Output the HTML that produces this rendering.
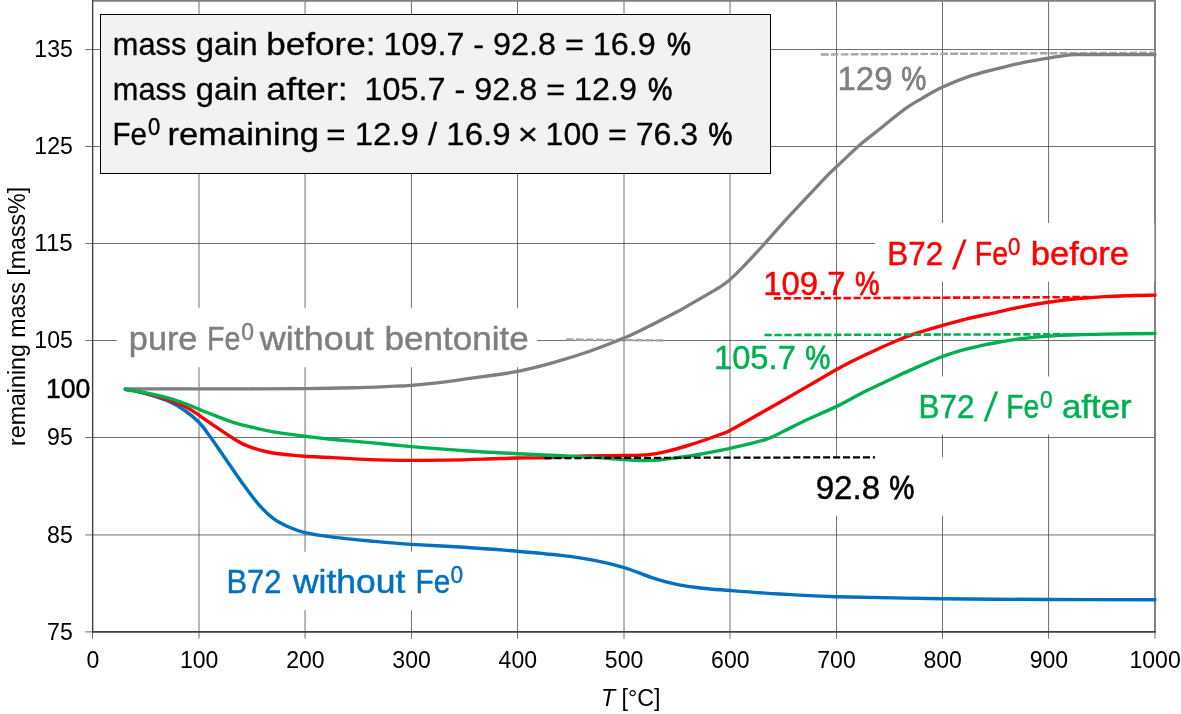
<!DOCTYPE html>
<html lang="en"><head><meta charset="utf-8"><title>TGA remaining mass</title>
<style>html,body{margin:0;padding:0;background:#fff}body{width:1181px;height:714px;overflow:hidden}svg{display:block}
text{font-family:"Liberation Sans",Arial,Helvetica,sans-serif}
.ax{font-size:24px;fill:#000}.at{font-size:23.3px;fill:#000}.hd{font-size:28px}.bx{font-size:31.3px}.lb{font-size:32.8px}.sp{font-size:24.3px}.sl{font-size:40.7px}
</style></head><body>
<svg width="1181" height="714" viewBox="0 0 1181 714">
<rect width="1181" height="714" fill="#fff"/>
<g stroke="#404040" stroke-width="0.75" fill="none">
<line x1="199.00" y1="1" x2="199.00" y2="631.6"/>
<line x1="305.05" y1="1" x2="305.05" y2="631.6"/>
<line x1="411.45" y1="1" x2="411.45" y2="631.6"/>
<line x1="517.55" y1="1" x2="517.55" y2="631.6"/>
<line x1="624.00" y1="1" x2="624.00" y2="631.6"/>
<line x1="730.00" y1="1" x2="730.00" y2="631.6"/>
<line x1="836.50" y1="1" x2="836.50" y2="631.6"/>
<line x1="942.50" y1="1" x2="942.50" y2="631.6"/>
<line x1="1048.55" y1="1" x2="1048.55" y2="631.6"/>
<line x1="92.8" y1="534.95" x2="1155" y2="534.95"/>
<line x1="92.8" y1="437.50" x2="1155" y2="437.50"/>
<line x1="92.8" y1="340.50" x2="1155" y2="340.50"/>
<line x1="92.8" y1="243.50" x2="1155" y2="243.50"/>
<line x1="92.8" y1="146.50" x2="1155" y2="146.50"/>
<line x1="92.8" y1="49.50" x2="1155" y2="49.50"/>
</g>
<g stroke="#404040" stroke-width="0.75" fill="none">
<line x1="92.50" y1="631.6" x2="92.50" y2="638.7"/>
<line x1="199.00" y1="631.6" x2="199.00" y2="638.7"/>
<line x1="305.05" y1="631.6" x2="305.05" y2="638.7"/>
<line x1="411.45" y1="631.6" x2="411.45" y2="638.7"/>
<line x1="517.55" y1="631.6" x2="517.55" y2="638.7"/>
<line x1="624.00" y1="631.6" x2="624.00" y2="638.7"/>
<line x1="730.00" y1="631.6" x2="730.00" y2="638.7"/>
<line x1="836.50" y1="631.6" x2="836.50" y2="638.7"/>
<line x1="942.50" y1="631.6" x2="942.50" y2="638.7"/>
<line x1="1048.55" y1="631.6" x2="1048.55" y2="638.7"/>
<line x1="1155.00" y1="631.6" x2="1155.00" y2="638.7"/>
<line x1="85.2" y1="631.90" x2="92.8" y2="631.90"/>
<line x1="85.2" y1="534.95" x2="92.8" y2="534.95"/>
<line x1="85.2" y1="437.50" x2="92.8" y2="437.50"/>
<line x1="85.2" y1="340.50" x2="92.8" y2="340.50"/>
<line x1="85.2" y1="243.50" x2="92.8" y2="243.50"/>
<line x1="85.2" y1="146.50" x2="92.8" y2="146.50"/>
<line x1="85.2" y1="49.50" x2="92.8" y2="49.50"/>
</g>
<g fill="#fff">
<rect x="116.8" y="307.8" width="420" height="59.4"/>
<rect x="875" y="223" width="280" height="58.6"/>
<rect x="905" y="376.5" width="249" height="58"/>
<rect x="210" y="551.8" width="270" height="58.4"/>
<rect x="801" y="457.2" width="160" height="58.5"/>
</g>
<line x1="92.2" y1="0.9" x2="1156" y2="0.9" stroke="#808080" stroke-width="1.8"/>
<line x1="1155" y1="0" x2="1155" y2="632.2" stroke="#808080" stroke-width="2"/>
<rect x="1153.8" y="223" width="0.55" height="58.6" fill="#fff"/>
<line x1="566" y1="339.4" x2="663.2" y2="340.5" stroke="#a6a6a6" stroke-width="2.4" stroke-dasharray="7.7 2.25"/>
<line x1="820.9" y1="54.5" x2="1155" y2="52.7" stroke="#a6a6a6" stroke-width="2.4" stroke-dasharray="7.7 2.25"/>
<g fill="none" stroke-width="3.4" stroke-linecap="round" stroke-linejoin="round">
<path stroke="#7f7f7f" stroke-width="3.3" d="M125.4,388.9 C137.7,388.9 169.0,388.9 198.9,388.9 C228.8,388.8 278.1,388.8 305.0,388.6 C331.9,388.4 344.2,388.0 360.0,387.6 C375.8,387.2 391.4,386.4 400.0,386.0 C408.6,385.6 403.5,386.1 411.4,385.4 C419.3,384.7 435.5,383.1 447.4,381.6 C459.3,380.1 471.3,378.3 483.0,376.6 C494.7,374.9 505.9,373.7 517.8,371.3 C529.6,368.9 542.1,365.7 554.1,362.3 C566.1,358.9 578.1,355.2 589.7,351.2 C601.4,347.2 614.1,342.2 624.0,338.1 C633.9,334.0 639.6,331.0 648.9,326.3 C658.2,321.6 673.5,313.6 680.0,310.2 C686.5,306.8 681.3,309.5 688.0,305.6 C694.7,301.7 713.2,291.2 720.2,286.8 C727.2,282.4 726.0,282.9 730.0,279.4 C734.0,275.9 738.4,271.6 744.0,265.8 C749.6,260.0 756.6,252.5 763.6,244.8 C770.6,237.1 779.0,227.3 786.0,219.6 C793.0,211.9 798.6,206.1 805.6,198.6 C812.6,191.1 822.9,180.1 828.0,174.8 C833.1,169.5 831.1,171.9 836.5,166.8 C841.9,161.8 852.9,150.9 860.3,144.5 C867.7,138.1 873.2,134.2 880.7,128.3 C888.2,122.4 898.2,113.8 905.0,108.9 C911.8,104.0 915.0,102.5 921.3,98.8 C927.6,95.1 934.1,90.9 942.6,87.0 C951.1,83.1 962.1,78.7 972.1,75.4 C982.1,72.1 994.1,69.4 1002.6,67.3 C1011.1,65.2 1015.3,64.1 1022.9,62.6 C1030.5,61.1 1040.5,59.4 1048.3,58.1 C1056.1,56.8 1064.1,55.5 1069.7,54.9 C1075.3,54.3 1077.0,54.6 1082.0,54.6 C1087.0,54.6 1087.8,54.6 1100.0,54.6 C1112.2,54.6 1145.8,54.6 1155.0,54.6"/>
<path stroke="#0070c0" d="M125.4,389.3 C128.5,389.9 136.8,391.1 143.8,393.0 C150.8,394.9 160.7,397.8 167.6,400.8 C174.5,403.8 180.3,407.4 185.5,411.0 C190.7,414.6 194.9,418.2 198.9,422.3 C202.9,426.4 205.6,430.5 209.3,435.5 C213.0,440.5 217.8,447.7 221.2,452.5 C224.5,457.3 225.6,459.0 229.4,464.5 C233.2,470.0 239.2,478.9 244.1,485.6 C249.0,492.3 253.9,499.2 258.8,504.7 C263.7,510.2 268.6,515.0 273.5,518.7 C278.4,522.4 283.0,524.5 288.2,526.8 C293.4,529.1 297.5,530.9 304.9,532.6 C312.2,534.3 321.5,535.7 332.4,537.1 C343.3,538.5 356.8,539.8 370.0,541.0 C383.2,542.2 395.7,543.4 411.4,544.4 C427.1,545.4 446.7,546.2 464.4,547.3 C482.1,548.4 501.3,549.9 517.4,551.2 C533.5,552.6 548.3,553.9 560.9,555.4 C573.5,556.9 582.5,558.2 593.1,560.2 C603.7,562.2 614.6,564.8 624.3,567.6 C633.9,570.5 642.3,574.5 651.0,577.3 C659.7,580.1 668.1,582.6 676.7,584.4 C685.3,586.2 693.5,587.2 702.4,588.2 C711.3,589.2 717.2,589.5 730.1,590.5 C743.0,591.5 762.2,593.0 780.0,594.0 C797.8,595.0 809.5,595.9 836.6,596.7 C863.7,597.5 907.1,598.2 942.5,598.7 C977.9,599.2 1013.4,599.3 1048.8,599.5 C1084.2,599.6 1137.3,599.7 1155.0,599.8"/>
<path stroke="#ff0000" d="M125.4,389.3 C128.5,389.9 136.8,391.2 143.8,392.9 C150.8,394.6 160.7,397.3 167.6,399.6 C174.5,401.9 180.3,404.2 185.5,406.8 C190.7,409.4 194.0,411.8 198.9,415.1 C203.8,418.4 209.5,422.5 215.2,426.4 C220.9,430.3 228.1,435.2 233.1,438.3 C238.1,441.4 240.5,442.9 245.0,444.9 C249.5,446.9 255.3,448.8 260.0,450.2 C264.7,451.6 268.3,452.2 273.0,453.0 C277.7,453.8 282.9,454.2 288.2,454.7 C293.5,455.2 297.5,455.7 304.9,456.2 C312.2,456.7 321.5,457.0 332.4,457.6 C343.3,458.2 356.8,459.1 370.0,459.6 C383.2,460.1 398.8,460.3 411.4,460.4 C424.0,460.5 433.9,460.3 445.9,460.1 C457.8,459.9 471.2,459.5 483.1,459.1 C495.1,458.8 507.3,458.2 517.6,458.0 C527.9,457.8 533.7,458.1 544.7,457.7 C555.7,457.3 570.5,456.3 583.8,455.9 C597.1,455.5 613.4,455.7 624.3,455.5 C635.2,455.3 641.8,455.3 649.0,454.6 C656.2,453.9 661.5,452.6 667.7,451.2 C673.9,449.8 680.1,447.9 686.3,446.0 C692.5,444.1 699.3,441.9 704.9,440.0 C710.5,438.1 715.8,436.1 720.0,434.5 C724.2,432.9 722.6,434.3 730.0,430.4 C737.4,426.5 752.5,417.8 764.5,411.0 C776.5,404.2 789.8,396.5 801.8,389.6 C813.8,382.7 828.2,374.2 836.5,369.5 C844.8,364.8 845.5,364.6 851.6,361.5 C857.7,358.4 866.0,354.5 873.2,351.2 C880.4,347.9 887.6,344.5 894.8,341.5 C902.0,338.5 908.4,335.9 916.4,333.2 C924.4,330.5 934.2,327.7 942.6,325.3 C951.0,322.9 958.8,320.7 966.7,318.8 C974.6,316.9 981.3,315.7 990.0,313.8 C998.7,311.9 1009.1,309.2 1018.8,307.3 C1028.5,305.4 1038.7,303.7 1048.3,302.3 C1057.9,300.9 1066.9,299.6 1076.4,298.7 C1085.9,297.8 1095.6,297.1 1105.2,296.6 C1114.8,296.1 1125.7,295.8 1134.0,295.5 C1142.3,295.2 1151.5,295.2 1155.0,295.1"/>
<path stroke="#00b050" d="M125.4,389.3 C128.5,389.8 136.8,391.1 143.8,392.5 C150.8,393.9 160.7,396.0 167.6,397.9 C174.5,399.8 180.3,401.9 185.5,403.8 C190.7,405.7 194.0,407.2 198.9,409.2 C203.8,411.2 209.5,413.5 215.2,415.7 C220.9,417.9 227.1,420.4 233.1,422.3 C239.1,424.2 245.8,425.7 251.0,427.0 C256.2,428.3 259.1,429.1 264.5,430.2 C269.9,431.3 276.3,432.4 283.1,433.4 C289.9,434.4 297.6,435.3 305.1,436.2 C312.6,437.1 317.1,437.9 327.9,439.0 C338.7,440.1 356.1,441.3 370.0,442.6 C383.9,443.9 395.6,445.2 411.4,446.6 C427.1,448.0 446.8,449.5 464.5,450.7 C482.2,451.9 502.5,452.9 517.7,453.7 C532.9,454.5 543.3,454.9 555.9,455.5 C568.5,456.1 581.7,456.7 593.1,457.4 C604.5,458.1 616.5,459.1 624.3,459.6 C632.1,460.1 634.0,460.4 639.7,460.5 C645.4,460.6 652.1,460.5 658.3,460.0 C664.5,459.5 670.8,458.5 677.0,457.7 C683.2,456.9 686.8,456.6 695.6,455.0 C704.4,453.4 718.5,450.8 730.0,448.3 C741.5,445.8 755.6,442.7 764.5,439.9 C773.4,437.1 776.9,434.4 783.1,431.5 C789.3,428.6 792.9,426.4 801.8,422.2 C810.7,418.0 827.3,410.9 836.6,406.4 C845.9,401.9 852.5,397.9 857.7,395.2 C863.0,392.5 863.1,392.4 868.1,390.0 C873.1,387.6 880.8,383.9 887.6,380.7 C894.5,377.5 902.0,373.8 909.2,370.6 C916.4,367.4 925.2,363.7 930.8,361.3 C936.4,358.9 937.8,358.2 942.6,356.5 C947.4,354.8 953.2,352.7 959.6,350.9 C966.0,349.1 974.4,347.1 981.1,345.6 C987.8,344.1 993.7,343.1 1000.0,342.0 C1006.3,340.9 1010.8,340.0 1018.8,339.0 C1026.8,338.0 1038.7,336.8 1048.3,336.1 C1057.9,335.4 1066.9,335.0 1076.4,334.7 C1085.9,334.4 1092.1,334.3 1105.2,334.1 C1118.3,333.9 1146.7,333.6 1155.0,333.5"/>
</g>
<line x1="773.9" y1="298.4" x2="1089" y2="297.1" stroke="#ff0000" stroke-width="2.6" stroke-dasharray="7.3 2.65"/>
<line x1="764.5" y1="335" x2="1094" y2="334.2" stroke="#00b050" stroke-width="2.6" stroke-dasharray="7.3 2.65"/>
<line x1="544.5" y1="458.1" x2="875" y2="457.3" stroke="#000" stroke-width="2.25" stroke-dasharray="7.1 2.85"/>
<line x1="92.65" y1="0" x2="92.65" y2="632.5" stroke="#404040" stroke-width="1.4"/>
<line x1="92.1" y1="631.9" x2="1156" y2="631.9" stroke="#404040" stroke-width="1.6"/>
<rect x="100.5" y="14.5" width="670" height="159" fill="#f2f2f2" stroke="#000" stroke-width="1"/>
<text id="a1" class="bx" x="112.78" y="55.4" textLength="73.57" lengthAdjust="spacingAndGlyphs" fill="#000" stroke="#000" stroke-width="0.3">mass</text>
<text id="a1b" class="bx" x="195.71" y="55.4" textLength="61.95" lengthAdjust="spacingAndGlyphs" fill="#000" stroke="#000" stroke-width="0.3">gain</text>
<text id="a1c" class="bx" x="266.19" y="55.4" textLength="109.28" lengthAdjust="spacingAndGlyphs" fill="#000" stroke="#000" stroke-width="0.3">before:</text>
<text id="a2" class="bx" x="383.48" y="55.4" textLength="272.26" lengthAdjust="spacingAndGlyphs" fill="#000" stroke="#000" stroke-width="0.3">109.7 - 92.8 = 16.9</text>
<text id="a3" class="bx" x="667.00" y="55.4" textLength="23.91" lengthAdjust="spacingAndGlyphs" fill="#000" stroke="#000" stroke-width="0.8">%</text>
<text id="b1" class="bx" x="112.78" y="99.9" textLength="73.57" lengthAdjust="spacingAndGlyphs" fill="#000" stroke="#000" stroke-width="0.3">mass</text>
<text id="b1b" class="bx" x="195.71" y="99.9" textLength="61.95" lengthAdjust="spacingAndGlyphs" fill="#000" stroke="#000" stroke-width="0.3">gain</text>
<text id="b1c" class="bx" x="266.38" y="99.9" textLength="81.34" lengthAdjust="spacingAndGlyphs" fill="#000" stroke="#000" stroke-width="0.3">after:</text>
<text id="b2" class="bx" x="364.45" y="99.9" textLength="272.58" lengthAdjust="spacingAndGlyphs" fill="#000" stroke="#000" stroke-width="0.3">105.7 - 92.8 = 12.9</text>
<text id="b3" class="bx" x="648.10" y="99.9" textLength="24.30" lengthAdjust="spacingAndGlyphs" fill="#000" stroke="#000" stroke-width="0.8">%</text>
<text id="c1" class="bx" x="112.55" y="144.7" textLength="34.53" lengthAdjust="spacingAndGlyphs" fill="#000" stroke="#000" stroke-width="0.3">Fe</text>
<text id="c2" class="sp" x="147.92" y="134.6" textLength="12.19" lengthAdjust="spacingAndGlyphs" fill="#000" stroke="#000" stroke-width="0.45">0</text>
<text id="c3" class="bx" x="167.63" y="144.7" textLength="151.43" lengthAdjust="spacingAndGlyphs" fill="#000" stroke="#000" stroke-width="0.3">remaining</text>
<text id="c4" class="bx" x="326.31" y="144.7" textLength="184.22" lengthAdjust="spacingAndGlyphs" fill="#000" stroke="#000" stroke-width="0.3">= 12.9 / 16.9</text>
<text id="c5" class="bx" x="517.70" y="144.7" textLength="20.32" lengthAdjust="spacingAndGlyphs" fill="#000" stroke="#000" stroke-width="0.3">×</text>
<text id="c6" class="bx" x="545.54" y="144.7" textLength="152.63" lengthAdjust="spacingAndGlyphs" fill="#000" stroke="#000" stroke-width="0.3">100 = 76.3</text>
<text id="c7" class="bx" x="708.44" y="144.7" textLength="23.83" lengthAdjust="spacingAndGlyphs" fill="#000" stroke="#000" stroke-width="0.8">%</text>
<text id="p1" class="lb" x="128.83" y="350.2" textLength="68.62" lengthAdjust="spacingAndGlyphs" fill="#7f7f7f" stroke="#7f7f7f" stroke-width="0.45">pure</text>
<text id="p2" class="lb" x="206.93" y="350.2" textLength="33.39" lengthAdjust="spacingAndGlyphs" fill="#7f7f7f" stroke="#7f7f7f" stroke-width="0.45">Fe</text>
<text id="p3" class="sp" x="241.32" y="339.8" textLength="12.72" lengthAdjust="spacingAndGlyphs" fill="#7f7f7f" stroke="#7f7f7f" stroke-width="0.45">0</text>
<text id="p4" class="lb" x="259.89" y="350.2" textLength="113.74" lengthAdjust="spacingAndGlyphs" fill="#7f7f7f" stroke="#7f7f7f" stroke-width="0.45">without</text>
<text id="p5" class="lb" x="384.40" y="350.2" textLength="144.37" lengthAdjust="spacingAndGlyphs" fill="#7f7f7f" stroke="#7f7f7f" stroke-width="0.45">bentonite</text>
<text id="q1" class="lb" x="837.52" y="90.3" textLength="54.97" lengthAdjust="spacingAndGlyphs" fill="#7f7f7f" stroke="#7f7f7f" stroke-width="0.45">129</text>
<text id="q2" class="lb" x="901.14" y="90.3" textLength="25.06" lengthAdjust="spacingAndGlyphs" fill="#7f7f7f" stroke="#7f7f7f" stroke-width="0.8">%</text>
<text id="r1" class="lb" x="763.24" y="294.5" textLength="82.25" lengthAdjust="spacingAndGlyphs" fill="#ff0000" stroke="#ff0000" stroke-width="0.45">109.7</text>
<text id="r1b" class="lb" x="855.05" y="294.5" textLength="24.51" lengthAdjust="spacingAndGlyphs" fill="#ff0000" stroke="#ff0000" stroke-width="0.8">%</text>
<text id="r2" class="lb" x="887.32" y="265.2" textLength="55.78" lengthAdjust="spacingAndGlyphs" fill="#ff0000" stroke="#ff0000" stroke-width="0.45">B72</text>
<text id="r2c" class="lb" x="974.78" y="265.2" textLength="33.36" lengthAdjust="spacingAndGlyphs" fill="#ff0000" stroke="#ff0000" stroke-width="0.45">Fe</text>
<text id="r3" class="sp" x="1007.89" y="254.8" textLength="12.33" lengthAdjust="spacingAndGlyphs" fill="#ff0000" stroke="#ff0000" stroke-width="0.45">0</text>
<text id="r4" class="lb" x="1030.79" y="265.2" textLength="98.12" lengthAdjust="spacingAndGlyphs" fill="#ff0000" stroke="#ff0000" stroke-width="0.45">before</text>
<text id="g1" class="lb" x="713.91" y="369.1" textLength="82.00" lengthAdjust="spacingAndGlyphs" fill="#00b050" stroke="#00b050" stroke-width="0.45">105.7</text>
<text id="g1b" class="lb" x="805.27" y="369.1" textLength="25.08" lengthAdjust="spacingAndGlyphs" fill="#00b050" stroke="#00b050" stroke-width="0.8">%</text>
<text id="g2" class="lb" x="918.52" y="417.9" textLength="55.94" lengthAdjust="spacingAndGlyphs" fill="#00b050" stroke="#00b050" stroke-width="0.45">B72</text>
<text id="g2c" class="lb" x="1006.31" y="417.9" textLength="33.08" lengthAdjust="spacingAndGlyphs" fill="#00b050" stroke="#00b050" stroke-width="0.45">Fe</text>
<text id="g3" class="sp" x="1040.06" y="407.5" textLength="12.55" lengthAdjust="spacingAndGlyphs" fill="#00b050" stroke="#00b050" stroke-width="0.45">0</text>
<text id="g4" class="lb" x="1061.98" y="417.9" textLength="69.77" lengthAdjust="spacingAndGlyphs" fill="#00b050" stroke="#00b050" stroke-width="0.45">after</text>
<text id="u1" class="lb" x="226.38" y="593.3" textLength="55.08" lengthAdjust="spacingAndGlyphs" fill="#0070c0" stroke="#0070c0" stroke-width="0.45">B72</text>
<text id="u1b" class="lb" x="292.94" y="593.3" textLength="112.56" lengthAdjust="spacingAndGlyphs" fill="#0070c0" stroke="#0070c0" stroke-width="0.45">without</text>
<text id="u1c" class="lb" x="415.45" y="593.3" textLength="34.85" lengthAdjust="spacingAndGlyphs" fill="#0070c0" stroke="#0070c0" stroke-width="0.45">Fe</text>
<text id="u2" class="sp" x="450.49" y="582.9" textLength="12.60" lengthAdjust="spacingAndGlyphs" fill="#0070c0" stroke="#0070c0" stroke-width="0.45">0</text>
<text id="k1" class="lb" x="815.63" y="499.1" textLength="64.43" lengthAdjust="spacingAndGlyphs" fill="#000" stroke="#000" stroke-width="0.45">92.8</text>
<text id="k1b" class="lb" x="889.24" y="499.1" textLength="25.09" lengthAdjust="spacingAndGlyphs" fill="#000" stroke="#000" stroke-width="0.8">%</text>
<text id="h1" class="hd" x="45.92" y="398.0" textLength="44.46" lengthAdjust="spacingAndGlyphs" fill="#000" stroke="#000" stroke-width="0.45">100</text>
<text id="xt" class="at" x="600.94" y="706.4" textLength="59.61" lengthAdjust="spacingAndGlyphs" fill="#000"><tspan font-style="italic">T</tspan> [°C]</text>
<text class="sl" transform="translate(952.10,268.6) skewX(-6.5)" fill="#ff0000">/</text>
<text class="sl" transform="translate(983.40,421.3) skewX(-6.5)" fill="#00b050">/</text>
<text class="ax" x="93.0" y="667.5" text-anchor="middle" textLength="12.8" lengthAdjust="spacingAndGlyphs">0</text>
<text class="ax" x="199.2" y="667.5" text-anchor="middle" textLength="38.5" lengthAdjust="spacingAndGlyphs">100</text>
<text class="ax" x="305.4" y="667.5" text-anchor="middle" textLength="38.5" lengthAdjust="spacingAndGlyphs">200</text>
<text class="ax" x="411.6" y="667.5" text-anchor="middle" textLength="38.5" lengthAdjust="spacingAndGlyphs">300</text>
<text class="ax" x="517.8" y="667.5" text-anchor="middle" textLength="38.5" lengthAdjust="spacingAndGlyphs">400</text>
<text class="ax" x="624.1" y="667.5" text-anchor="middle" textLength="38.5" lengthAdjust="spacingAndGlyphs">500</text>
<text class="ax" x="730.3" y="667.5" text-anchor="middle" textLength="38.5" lengthAdjust="spacingAndGlyphs">600</text>
<text class="ax" x="836.5" y="667.5" text-anchor="middle" textLength="38.5" lengthAdjust="spacingAndGlyphs">700</text>
<text class="ax" x="942.7" y="667.5" text-anchor="middle" textLength="38.5" lengthAdjust="spacingAndGlyphs">800</text>
<text class="ax" x="1048.9" y="667.5" text-anchor="middle" textLength="38.5" lengthAdjust="spacingAndGlyphs">900</text>
<text class="ax" x="1155.1" y="667.5" text-anchor="middle" textLength="51.4" lengthAdjust="spacingAndGlyphs">1000</text>
<text class="ax" x="72.8" y="639.5" text-anchor="end" textLength="25.7" lengthAdjust="spacingAndGlyphs">75</text>
<text class="ax" x="72.8" y="542.6" text-anchor="end" textLength="25.7" lengthAdjust="spacingAndGlyphs">85</text>
<text class="ax" x="72.8" y="445.1" text-anchor="end" textLength="25.7" lengthAdjust="spacingAndGlyphs">95</text>
<text class="ax" x="72.8" y="348.1" text-anchor="end" textLength="38.5" lengthAdjust="spacingAndGlyphs">105</text>
<text class="ax" x="72.8" y="251.1" text-anchor="end" textLength="38.5" lengthAdjust="spacingAndGlyphs">115</text>
<text class="ax" x="72.8" y="154.1" text-anchor="end" textLength="38.5" lengthAdjust="spacingAndGlyphs">125</text>
<text class="ax" x="72.8" y="57.1" text-anchor="end" textLength="38.5" lengthAdjust="spacingAndGlyphs">135</text>
<text id="yl" class="at" transform="translate(24.5,446.0) rotate(-90)" textLength="259.2" lengthAdjust="spacingAndGlyphs">remaining mass [mass%]</text>
</svg></body></html>
